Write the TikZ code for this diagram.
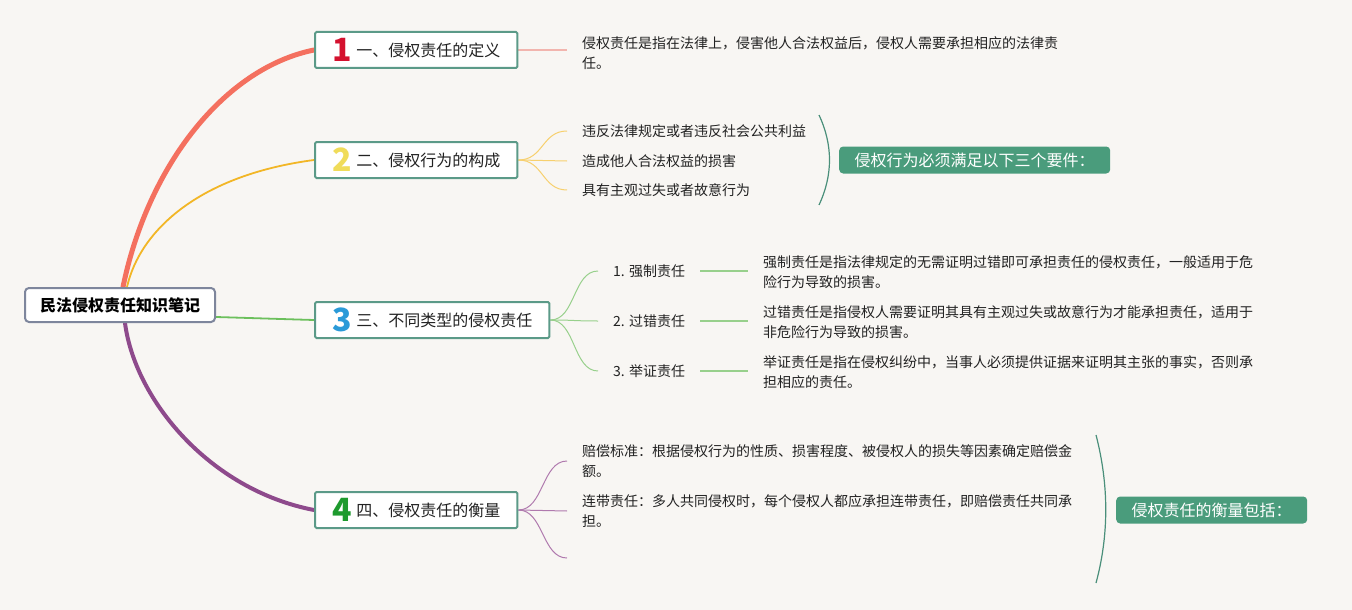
\documentclass[tikz,border=0pt]{standalone}
\usepackage{fontspec}
\setmainfont{Noto Sans CJK SC}
\usetikzlibrary{
  positioning,
  calc,
  backgrounds
}
\definecolor{mmBg}{RGB}{248,246,243}
\definecolor{mmInk}{RGB}{34,34,34}
\definecolor{mmRoot}{RGB}{126,134,156}
\definecolor{mmFrame}{RGB}{91,154,136}
\definecolor{mmSum}{RGB}{74,156,124}
\definecolor{mmBrace}{RGB}{74,143,122}
\definecolor{mmRed}{RGB}{244,112,95}
\definecolor{mmRedLight}{RGB}{242,181,174}
\definecolor{mmYellow}{RGB}{242,182,38}
\definecolor{mmYellowLight}{RGB}{247,208,110}
\definecolor{mmGreen}{RGB}{108,192,92}
\definecolor{mmGreenLight}{RGB}{152,208,140}
\definecolor{mmPurple}{RGB}{142,74,140}
\definecolor{mmPurpleLight}{RGB}{176,122,174}
\definecolor{numRed}{RGB}{212,17,46}
\definecolor{numYellow}{RGB}{240,220,90}
\definecolor{numBlue}{RGB}{42,154,216}
\definecolor{numGreen}{RGB}{30,154,46}
\newcommand{\bignum}[2]{\raisebox{-5pt}{\textcolor{#1}{\fontsize{32}{32}\selectfont\bfseries #2}}\hspace{5pt}}
\tikzset{
  rootbox/.style={
    draw=mmRoot,
    line width=2pt,
    rounded corners=4pt,
    fill=white,
    text=black,
    minimum width=190pt,
    minimum height=34pt,
    inner sep=0pt,
    font=\fontsize{16}{20}\selectfont\bfseries
  },
  headbox/.style={
    draw=mmFrame,
    line width=2pt,
    rounded corners=1.5pt,
    fill=white,
    text=mmInk,
    anchor=west,
    minimum height=36pt,
    inner xsep=17pt,
    inner ysep=0pt,
    font=\fontsize{16}{20}\selectfont
  },
  notetext/.style={
    anchor=west,
    align=left,
    text=mmInk,
    inner xsep=15pt,
    inner ysep=0pt,
    font=\fontsize{14}{20}\selectfont
  },
  sumbox/.style={
    fill=mmSum,
    rounded corners=4pt,
    text=white,
    anchor=west,
    minimum height=27pt,
    inner xsep=15.5pt,
    inner ysep=0pt,
    font=\fontsize{16}{20}\selectfont
  },
  trunk/.style={line cap=round},
  twig/.style={line width=1pt},
  leader/.style={line width=1.5pt},
  brace/.style={draw=mmBrace, line width=1.2pt}
}

\begin{document}
\begin{tikzpicture}[x=1pt, y=-1pt]
  \begin{pgfonlayer}{background}
    \fill[mmBg] (0,0) rectangle (1352,610);
  \end{pgfonlayer}
  \useasboundingbox (0,0) rectangle (1352,610);

  \node[rootbox] (root) at (120,305) {民法侵权责任知识笔记};

  \node[headbox, minimum width=202pt] (def) at (314,50)
    {\bignum{numRed}{1}一、侵权责任的定义};
  \node[headbox, minimum width=202pt] (cons) at (314,160)
    {\bignum{numYellow}{2}二、侵权行为的构成};
  \node[headbox] (kind) at (314,320)
    {\bignum{numBlue}{3}三、不同类型的侵权责任};
  \node[headbox, minimum width=202pt] (meas) at (314,510)
    {\bignum{numGreen}{4}四、侵权责任的衡量};

  \node[notetext] (defnote) at (567,53)
    {侵权责任是指在法律上，侵害他人合法权益后，侵权人需要承担相应的法律责\\任。};

  \node[notetext] (cons1) at (567,131) {违反法律规定或者违反社会公共利益};
  \node[notetext] (cons2) at (567,161) {造成他人合法权益的损害};
  \node[notetext] (cons3) at (567,190) {具有主观过失或者故意行为};
  \coordinate (constop) at (819,115);
  \coordinate (consbot) at (819,205);
  \node[sumbox] (conssum) at (839,160) {侵权行为必须满足以下三个要件：};

  \node[notetext] (kind1) at (598,271) {1. 强制责任};
  \node[notetext] (kind2) at (598,321) {2. 过错责任};
  \node[notetext] (kind3) at (598,371) {3. 举证责任};
  \node[notetext] (kindnote1) at (748,272)
    {强制责任是指法律规定的无需证明过错即可承担责任的侵权责任，一般适用于危\\险行为导致的损害。};
  \node[notetext] (kindnote2) at (748,322)
    {过错责任是指侵权人需要证明其具有主观过失或故意行为才能承担责任，适用于\\非危险行为导致的损害。};
  \node[notetext] (kindnote3) at (748,372)
    {举证责任是指在侵权纠纷中，当事人必须提供证据来证明其主张的事实，否则承\\担相应的责任。};

  \node[notetext] (meas1) at (567,461)
    {赔偿标准：根据侵权行为的性质、损害程度、被侵权人的损失等因素确定赔偿金\\额。};
  \node[notetext] (meas2) at (567,511)
    {连带责任：多人共同侵权时，每个侵权人都应承担连带责任，即赔偿责任共同承\\担。};
  \coordinate (meas3) at (567,558);
  \coordinate (meastop) at (1096,435);
  \coordinate (measbot) at (1096,583);
  \node[sumbox] (meassum) at (1116,510) {侵权责任的衡量包括：};

  \begin{pgfonlayer}{background}
    \draw[trunk, mmRed, line width=5pt] ([xshift=3pt]root.north)
      .. controls (148,165) and (225,68) .. (def.west);
    \draw[trunk, mmYellow, line width=1.8pt] ([xshift=7pt]root.north)
      .. controls (140,230) and (200,175) .. (cons.west);
    \draw[trunk, mmGreen, line width=1.8pt] ($(root.east)+(0,12)$)
      .. controls (250,318) and (280,319) .. (kind.west);
    \draw[trunk, mmPurple, line width=4pt] ([xshift=5pt]root.south)
      .. controls (135,400) and (210,490) .. (meas.west);

    \draw[leader, mmRedLight] (def.east) -- (def.east -| defnote.west);

    \foreach \n in {cons1,cons2,cons3}
      \draw[twig, mmYellowLight] (cons.east) .. controls +(25,0) and +(-25,0) .. (\n.west);
    \draw[brace] (constop) .. controls (833,145) and (833,175) .. (consbot);

    \foreach \n in {kind1,kind2,kind3}
      \draw[twig, mmGreenLight] (kind.east) .. controls +(25,0) and +(-25,0) .. (\n.west);
    \foreach \n in {1,2,3}
      \draw[leader, mmGreenLight] (kind\n.east) -- (kind\n.east -| kindnote\n.west);

    \foreach \n in {meas1.west,meas2.west,meas3}
      \draw[twig, mmPurpleLight] (meas.east) .. controls +(25,0) and +(-25,0) .. (\n);
    \draw[brace] (meastop) .. controls (1109,485) and (1109,535) .. (measbot);
  \end{pgfonlayer}
\end{tikzpicture}
\end{document}
